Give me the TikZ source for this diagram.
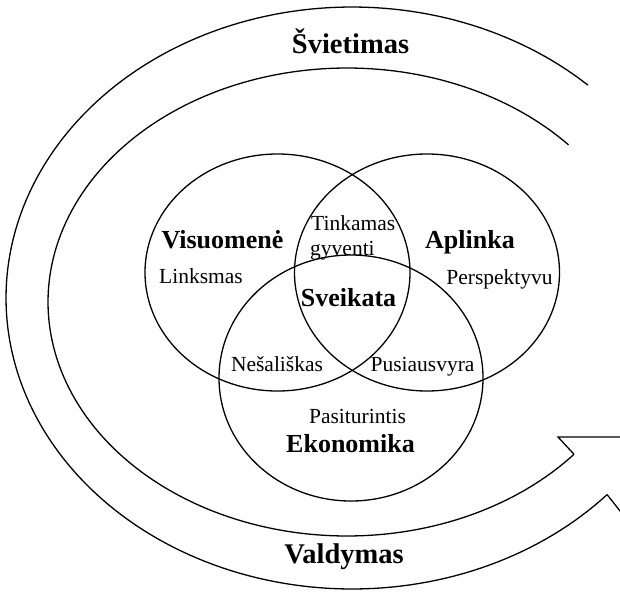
\documentclass[tikz,border=0pt]{standalone}
\usepackage{fontspec}
\setmainfont{Liberation Serif}
\tikzset{
  band/.style={line width=1.3pt, line join=miter},
  ring/.style={line width=1.3pt},
  lbl/.style={font=\fontsize{21.5}{24}\selectfont, inner sep=0pt, anchor=base},
  blbl/.style={font=\bfseries\fontsize{26}{28}\selectfont, inner sep=0pt, anchor=base},
  biglbl/.style={font=\bfseries\fontsize{28.5}{30}\selectfont, inner sep=0pt, anchor=base},
}
\begin{document}
\begin{tikzpicture}[x=1pt,y=-1pt]
\useasboundingbox (0,0) rectangle (620,594);
\clip (0,0) rectangle (620,594);
% spiral band
\draw[band] plot[domain=47:317.5, samples=180] ({352+346*cos(\x)}, {298-291*sin(\x)});
\draw[band] plot[domain=42.2:319.4, samples=180] ({347+299*cos(\x)}, {302-234*sin(\x)});
\coordinate (n1) at ({347+299*cos(319.4)}, {302-234*sin(319.4)});
\coordinate (b1) at (558,437);
\coordinate (t1) at (700,437);
\coordinate (n2) at ({352+346*cos(317.5)}, {298-291*sin(317.5)});
\coordinate (b2) at (650,549);
\draw[band] (n1) -- (b1) -- (t1);
\draw[band] (n2) -- (b2);
% circles
\coordinate (cv) at (277.5,272.5);
\coordinate (ca) at (427,272.5);
\coordinate (ce) at (351,378);
\draw[ring] (cv) ellipse [x radius=132.5, y radius=118.5];
\draw[ring] (ca) ellipse [x radius=132.5, y radius=118.5];
\draw[ring] (ce) ellipse [x radius=132, y radius=123];
% labels
\node[biglbl] (sv) at (350.5,53) {Švietimas};
\node[biglbl] (va) at (344,563) {Valdymas};
\node[blbl] (vi) at (222.5,248) {Visuomenė};
\node[lbl] (li) at (201,283) {Linksmas};
\node[lbl, anchor=base west] (ti) at (311,230) {Tinkamas};
\node[lbl, anchor=base west] (gy) at (310,255) {gyventi};
\node[blbl] (sk) at (348.5,306) {Sveikata};
\node[blbl] (ap) at (470,248) {Aplinka};
\node[lbl] (pe) at (499.5,284) {Perspektyvu};
\node[lbl] (ne) at (277,371) {Nešališkas};
\node[lbl] (pu) at (422.5,371) {Pusiausvyra};
\node[lbl] (pa) at (357.5,423) {Pasiturintis};
\node[blbl] (ek) at (350.5,452) {Ekonomika};
\end{tikzpicture}
\end{document}
